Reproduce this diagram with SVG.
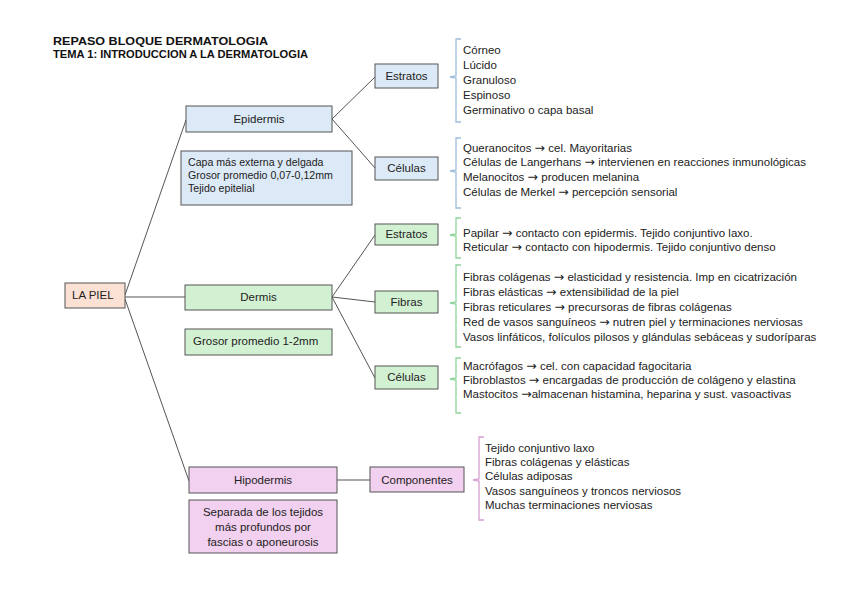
<svg xmlns="http://www.w3.org/2000/svg" width="848" height="599" viewBox="0 0 848 599">
<style>
text{font-family:"Liberation Sans",Arial,sans-serif;font-size:11.5px;fill:#222}
.a{font-family:"DejaVu Sans",sans-serif;font-size:12.5px}
.t{font-weight:bold;font-size:10.6px;fill:#111}
.c{text-anchor:middle}
.n{font-size:10.6px}
.box{stroke:#555;stroke-width:1}
.blue{fill:#dce9f6}
.green{fill:#d2f1d3}
.pink{fill:#f2d0ef}
.orange{fill:#fbe1d4}
.conn line{stroke:#555;stroke-width:1;fill:none}
.br{fill:none;stroke-width:1.3}
.bb{stroke:#9dbddb}
.bg{stroke:#8dd49a}
.bp{stroke:#d79fd2}
</style>
<rect width="848" height="599" fill="#fff"/>
<text class="t" x="53" y="45" textLength="215" lengthAdjust="spacingAndGlyphs">REPASO BLOQUE DERMATOLOGIA</text>
<text class="t" x="53" y="58" textLength="255" lengthAdjust="spacingAndGlyphs">TEMA 1: INTRODUCCION A LA DERMATOLOGIA</text>

<g class="conn" id="connectors">
<line x1="125" y1="295" x2="186" y2="120"/>
<line x1="125" y1="297" x2="185" y2="297"/>
<line x1="125" y1="299" x2="189" y2="481"/>
<line x1="332" y1="119" x2="375" y2="77"/>
<line x1="332" y1="119" x2="375" y2="168"/>
<line x1="332" y1="297" x2="375" y2="235"/>
<line x1="332" y1="297" x2="375" y2="302"/>
<line x1="332" y1="297" x2="375" y2="378"/>
<line x1="337" y1="480" x2="370" y2="480"/>
</g>

<g id="la-piel"><rect class="box orange" x="65" y="283" width="60" height="25"/><text x="72" y="299">LA PIEL</text></g>

<g id="epidermis"><rect class="box blue" x="186" y="106" width="146" height="26"/><text class="c" x="259" y="123">Epidermis</text></g>
<g id="epidermis-nota"><rect class="box blue" x="181" y="151" width="171" height="54"/>
<text class="n" x="188" y="166">Capa más externa y delgada</text>
<text class="n" x="188" y="179">Grosor promedio 0,07-0,12mm</text>
<text class="n" x="188" y="192">Tejido epitelial</text></g>

<g id="epi-estratos"><rect class="box blue" x="375" y="64" width="63" height="24"/><text class="c" x="406.5" y="80">Estratos</text>
<path class="br bb" d="M461,39 H456 V76 L450,77 L456,78 V122 H461"/>
<text x="463" y="54">Córneo</text><text x="463" y="69">Lúcido</text><text x="463" y="84">Granuloso</text><text x="463" y="99">Espinoso</text><text x="463" y="114">Germinativo o capa basal</text></g>

<g id="epi-celulas"><rect class="box blue" x="375" y="157" width="63" height="23"/><text class="c" x="406.5" y="172">Células</text>
<path class="br bb" d="M461,138 H456 V170 L450,171 L456,172 V208 H461"/>
<text x="463" y="152">Queranocitos <tspan class="a">→</tspan> cel. Mayoritarias</text>
<text x="463" y="166">Células de Langerhans <tspan class="a">→</tspan> intervienen en reacciones inmunológicas</text>
<text x="463" y="181">Melanocitos <tspan class="a">→</tspan> producen melanina</text>
<text x="463" y="196">Células de Merkel <tspan class="a">→</tspan> percepción sensorial</text></g>

<g id="dermis"><rect class="box green" x="185" y="285" width="147" height="25"/><text class="c" x="258.5" y="301">Dermis</text></g>
<g id="dermis-nota"><rect class="box green" x="185" y="329" width="147" height="26"/><text x="193" y="345">Grosor promedio 1-2mm</text></g>

<g id="der-estratos"><rect class="box green" x="375" y="224" width="63" height="21"/><text class="c" x="406.5" y="238">Estratos</text>
<path class="br bg" d="M461,218 H456 V234 L450,235 L456,236 V258 H461"/>
<text x="463" y="237">Papilar <tspan class="a">→</tspan> contacto con epidermis. Tejido conjuntivo laxo.</text>
<text x="463" y="251">Reticular  <tspan class="a">→</tspan> contacto con hipodermis. Tejido conjuntivo denso</text></g>

<g id="der-fibras"><rect class="box green" x="375" y="291" width="63" height="22"/><text class="c" x="406.5" y="306">Fibras</text>
<path class="br bg" d="M461,265 H456 V302 L450,303 L456,304 V347 H461"/>
<text x="463" y="281">Fibras colágenas <tspan class="a">→</tspan> elasticidad y resistencia. Imp en cicatrización</text>
<text x="463" y="296">Fibras elásticas <tspan class="a">→</tspan> extensibilidad de la piel</text>
<text x="463" y="311">Fibras reticulares <tspan class="a">→</tspan> precursoras de fibras colágenas</text>
<text x="463" y="326">Red de vasos sanguíneos <tspan class="a">→</tspan> nutren piel y terminaciones nerviosas</text>
<text x="463" y="341">Vasos linfáticos, folículos pilosos y glándulas sebáceas y sudoríparas</text></g>

<g id="der-celulas"><rect class="box green" x="375" y="366" width="63" height="23"/><text class="c" x="406.5" y="381">Células</text>
<path class="br bg" d="M461,358 H456 V378 L450,379 L456,380 V413 H461"/>
<text x="463" y="370">Macrófagos <tspan class="a">→</tspan> cel. con capacidad fagocitaria</text>
<text x="463" y="384">Fibroblastos <tspan class="a">→</tspan> encargadas de producción de colágeno y elastina</text>
<text x="463" y="398">Mastocitos <tspan class="a">→</tspan>almacenan histamina, heparina y sust. vasoactivas</text></g>

<g id="hipodermis"><rect class="box pink" x="189" y="467" width="148" height="26"/><text class="c" x="263" y="484">Hipodermis</text></g>
<g id="hipodermis-nota"><rect class="box pink" x="189" y="500" width="148" height="53"/>
<text class="c" x="263" y="516">Separada de los tejidos</text>
<text class="c" x="263" y="531">más profundos por</text>
<text class="c" x="263" y="546">fascias o aponeurosis</text></g>

<g id="componentes"><rect class="box pink" x="370" y="467" width="94" height="25"/><text class="c" x="417" y="484">Componentes</text>
<path class="br bp" d="M484,437 H479 V479 L473,480 L479,481 V520 H484"/>
<text x="485" y="452">Tejido conjuntivo laxo</text>
<text x="485" y="466">Fibras colágenas y elásticas</text>
<text x="485" y="480">Células adiposas</text>
<text x="485" y="495">Vasos sanguíneos y troncos nerviosos</text>
<text x="485" y="509">Muchas terminaciones nerviosas</text></g>
</svg>
